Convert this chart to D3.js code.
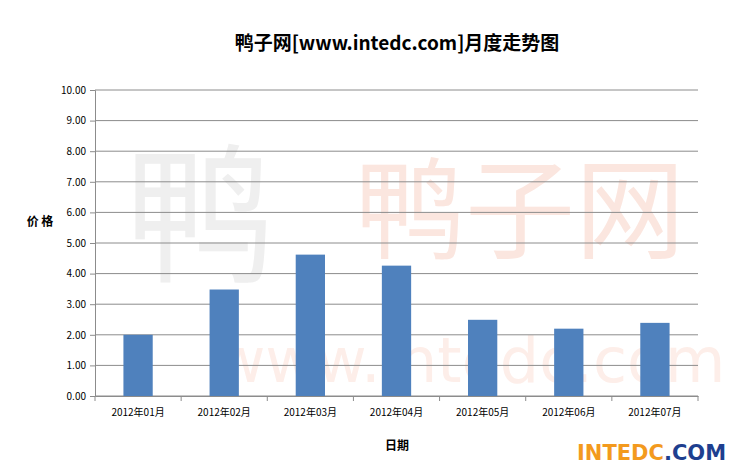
<!DOCTYPE html>
<html><head><meta charset="utf-8">
<script src="https://cdn.jsdelivr.net/npm/d3@7"></script>
<style>body{margin:0;background:#fff}</style></head>
<body><svg id="c" width="739" height="473"></svg>
<script>
const categories=["2012年01月","2012年02月","2012年03月","2012年04月","2012年05月","2012年06月","2012年07月"];
const values=[2.00,3.48,4.62,4.26,2.49,2.20,2.39];
const yTicks=[0,1,2,3,4,5,6,7,8,9,10];
const svg=d3.select("#c");
const f="'Noto Sans CJK SC','DejaVu Sans',sans-serif";
const L=95,R=698,T=90,B=396;
// watermark
svg.append("text").attr("x",520).attr("y",250).attr("text-anchor","middle").attr("font-family",f).attr("font-size",110).attr("fill","#fbe6df").text("鸭子网");
svg.append("text").attr("x",470).attr("y",382).attr("text-anchor","middle").attr("font-family","'DejaVu Sans'").attr("font-size",62).attr("fill","#fdeee9").text("www.intedc.com");
svg.append("text").attr("x",200).attr("y",270).attr("text-anchor","middle").attr("font-family",f).attr("font-size",150).attr("fill","#efefef").text("鸭");
const x=d3.scaleBand().domain(categories).range([L,R]);
const y=d3.scaleLinear().domain([0,10]).range([B,T]);
svg.append("g").selectAll("line").data(yTicks).join("line").attr("x1",L).attr("x2",R).attr("y1",d=>y(d)).attr("y2",d=>y(d)).attr("stroke","#8c8c8c").attr("stroke-width",1);
svg.append("g").selectAll("rect").data(values).join("rect").attr("x",(d,i)=>x(categories[i])+x.bandwidth()*0.33).attr("width",x.bandwidth()*0.34).attr("y",d=>y(d)).attr("height",d=>B-y(d)).attr("fill","#4f81bd");
const ya=svg.append("g").attr("transform",`translate(${L},0)`).call(d3.axisLeft(y).tickValues(yTicks).tickFormat(d3.format(".2f")).tickSize(5).tickPadding(4));
const xa=svg.append("g").attr("transform",`translate(0,${B})`).call(d3.axisBottom(x).tickSize(0).tickPadding(13));
xa.selectAll(".tick").append("line").attr("x1",-x.bandwidth()/2).attr("x2",-x.bandwidth()/2).attr("y2",5).attr("stroke","#8c8c8c");
xa.append("line").attr("x1",R).attr("x2",R).attr("y2",5).attr("stroke","#8c8c8c");
[ya,xa].forEach(a=>{a.selectAll("path,line").attr("stroke","#8c8c8c");a.selectAll("text").attr("font-family",f).attr("font-size",10).attr("fill","#000");});
svg.append("text").attr("x",397).attr("y",50).attr("text-anchor","middle").attr("font-family",f).attr("font-size",19).attr("font-weight","bold").text("鸭子网[www.intedc.com]月度走势图");
svg.append("text").attr("x",40).attr("y",226).attr("text-anchor","middle").attr("font-family",f).attr("font-size",12).attr("font-weight","bold").text("价 格");
svg.append("text").attr("x",397).attr("y",450).attr("text-anchor","middle").attr("font-family",f).attr("font-size",12).attr("font-weight","bold").text("日期");
const lg=svg.append("text").attr("x",577).attr("y",460).attr("font-family","'DejaVu Sans'").attr("font-size",21).attr("font-weight","bold");
lg.append("tspan").attr("fill","#f39a1e").text("INTEDC");
lg.append("tspan").attr("fill","#1e3f8f").text(".COM");
</script></body></html>
